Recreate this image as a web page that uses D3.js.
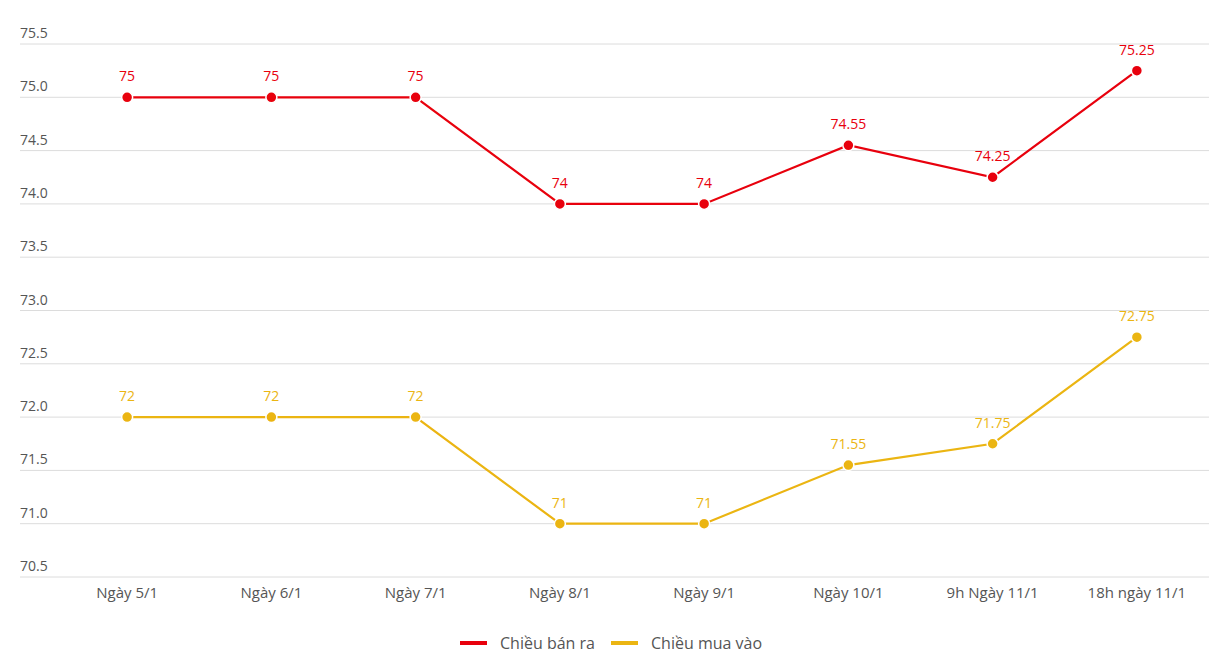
<!DOCTYPE html>
<html><head><meta charset="utf-8">
<script src="https://cdn.jsdelivr.net/npm/d3@7/dist/d3.min.js"></script>
<style>body{margin:0;background:#fff;font-family:"Open Sans","Noto Sans",sans-serif}</style>
</head><body><svg id="c" width="1210" height="671"></svg>
<script>
const categories = ["Ngày 5/1","Ngày 6/1","Ngày 7/1","Ngày 8/1","Ngày 9/1","Ngày 10/1","9h Ngày 11/1","18h ngày 11/1"];
const sellValues = [75,75,75,74,74,74.55,74.25,75.25];
const buyValues = [72,72,72,71,71,71.55,71.75,72.75];
const yTicks = [70.5,71.0,71.5,72.0,72.5,73.0,73.5,74.0,74.5,75.0,75.5];
const seriesNames = ["Chiều bán ra","Chiều mua vào"];
const colors = ["#e8000d","#ebb512"];

const svg = d3.select("#c");
const x = d3.scaleBand().domain(categories).range([55,1209]);
const y = d3.scaleLinear().domain([70.5,75.5]).range([577,44]);

const grid = svg.append("g");
yTicks.forEach(t=>{
  grid.append("line").attr("x1",20).attr("x2",1209).attr("y1",y(t)).attr("y2",y(t))
    .attr("stroke","#dcdcdc").attr("stroke-width",1);
  grid.append("text").attr("x",20).attr("y",y(t)-6).text(d3.format(".1f")(t))
    .attr("fill","#555").attr("font-size",14);
});

svg.append("g").selectAll("text").data(categories).join("text")
  .attr("x",d=>x(d)+x.bandwidth()/2).attr("y",598).attr("text-anchor","middle")
  .attr("fill","#555").attr("font-size",15).text(d=>d);

const cx = d=>x(d)+x.bandwidth()/2;
[sellValues,buyValues].forEach((vals,i)=>{
  const pts = categories.map((c,j)=>[cx(c),y(vals[j]),vals[j]]);
  svg.append("path").attr("d",d3.line()(pts.map(p=>[p[0],p[1]])))
    .attr("fill","none").attr("stroke",colors[i]).attr("stroke-width",2.2);
  svg.append("g").selectAll("circle").data(pts).join("circle")
    .attr("cx",p=>p[0]).attr("cy",p=>p[1]).attr("r",5.5)
    .attr("fill",colors[i]).attr("stroke","#fff").attr("stroke-width",1.5);
  svg.append("g").selectAll("text").data(pts).join("text")
    .attr("x",p=>p[0]).attr("y",p=>p[1]-16).attr("text-anchor","middle")
    .attr("fill",colors[i]).attr("font-size",14).text(p=>p[2]);
});

const leg = svg.append("g");
const lx = [460,611];
seriesNames.forEach((n,i)=>{
  leg.append("rect").attr("x",lx[i]).attr("y",641).attr("width",27).attr("height",4).attr("fill",colors[i]);
  leg.append("text").attr("x",lx[i]+40).attr("y",649).attr("fill","#555").attr("font-size",16).text(n);
});
</script></body></html>
